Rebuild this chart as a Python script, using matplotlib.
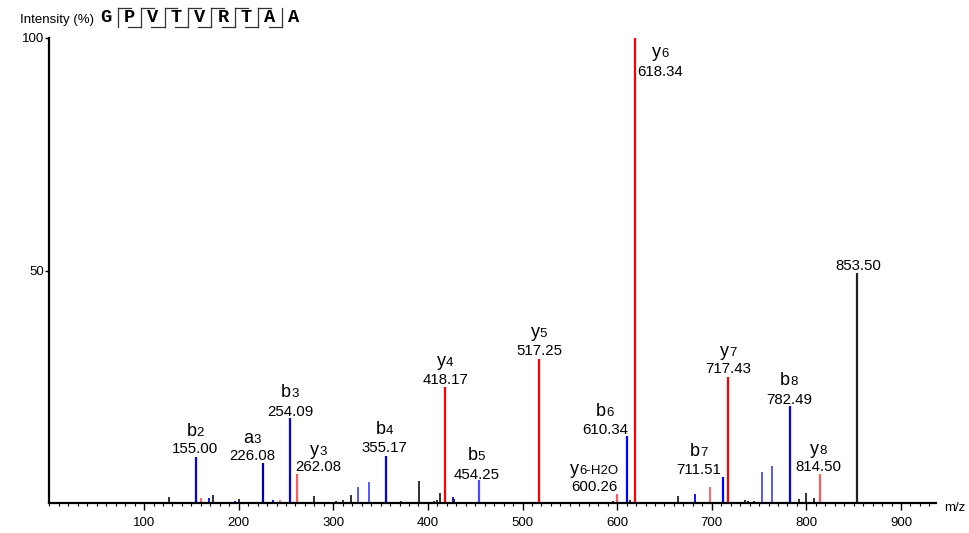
import numpy as np
import matplotlib
matplotlib.use("Agg")
import matplotlib.pyplot as plt
from matplotlib.lines import Line2D
from matplotlib.ticker import MultipleLocator
from matplotlib.offsetbox import TextArea, HPacker, AnnotationBbox

plt.rcParams['font.family'] = ['Liberation Sans', 'DejaVu Sans']

# peptide
sequence = ['G', 'P', 'V', 'T', 'V', 'R', 'T', 'A', 'A']
top_hooks = [1, 2, 3, 4, 5, 6, 7]      # bars (after residue i) with hook over next residue
bottom_hooks = [2, 3, 4, 5, 6, 7, 8]   # bars with hook under previous residue

# labelled peaks
lab_mz = [155.00, 226.08, 254.09, 262.08, 355.17, 418.17, 454.25, 517.25,
          600.26, 610.34, 618.34, 711.51, 717.43, 782.49, 814.50, 853.50]
lab_int = [9.9, 8.6, 18.3, 6.2, 10.2, 24.9, 5.0, 31.0,
           2.0, 14.4, 100.0, 5.6, 27.2, 20.9, 6.2, 49.5]
lab_ion = ['b2', 'a3', 'b3', 'y3', 'b4', 'y4', 'b5', 'y5',
           'y6-H2O', 'b6', 'y6', 'b7', 'y7', 'b8', 'y8', '']
lab_kind = ['b', 'a', 'b', 'yl', 'b', 'y', 'bl', 'y',
            'yl', 'b', 'y', 'b', 'y', 'b', 'yl', 'n']

# unlabelled peaks
oth_mz = [126.7, 160.3, 169.0, 172.6, 188.0, 196.0, 200.4, 236.0, 243.8, 279.4,
          290.0, 303.0, 310.0, 318.8, 326.5, 337.5, 362.0, 366.0, 371.0, 376.0,
          381.0, 390.4, 399.9, 406.5, 409.7, 412.9, 426.3, 427.5, 499.3, 584.0,
          596.0, 613.7, 622.0, 628.0, 640.0, 652.0, 664.2, 682.1, 698.6, 734.6,
          738.2, 745.0, 753.0, 763.5, 792.0, 799.8, 807.9]
oth_int = [1.3, 1.0, 1.0, 1.7, 0.3, 0.5, 0.8, 0.7, 0.7, 1.4,
           0.3, 0.4, 0.7, 1.7, 3.5, 4.5, 0.3, 0.3, 0.4, 0.3,
           0.3, 4.7, 0.3, 0.5, 0.6, 2.2, 1.3, 0.9, 0.3, 0.3,
           0.4, 0.6, 0.3, 0.3, 0.3, 0.3, 1.5, 2.0, 3.5, 0.6,
           0.5, 0.4, 6.7, 7.9, 0.8, 2.2, 1.0]
oth_kind = ['n', 'yl', 'b', 'n', 'n', 'b', 'n', 'b', 'yl', 'n',
            'n', 'n', 'n', 'n', 'bl', 'bl', 'n', 'n', 'n', 'n',
            'n', 'n', 'yl', 'n', 'n', 'n', 'b', 'n', 'yl', 'n',
            'n', 'n', 'n', 'n', 'n', 'n', 'n', 'b', 'yl', 'n',
            'n', 'n', 'bl', 'bl', 'n', 'n', 'n']

colors = {'b': '#0000ff', 'bl': '#4a4aff', 'a': '#0000b0',
          'y': '#ff0000', 'yl': '#ff5a5a', 'n': '#222222'}

# label placement in pixels: dx, dy of number, dy of ion name
label_off = {'b2': (-1, 8, 25), 'a3': (-11, 7, 25), 'b3': (0, 6, 25),
             'y3': (21, 7, 24), 'b4': (-1, 8, 26), 'y4': (0, 7, 26),
             'b5': (-3, 5, 24), 'y5': (0, 8, 26), 'y6-H2O': (-23, 7, 24),
             'b6': (-22, 6, 25), 'y6': (26, -34, -15), 'b7': (-24, 7, 25),
             'y7': (0, 8, 25), 'b8': (-1, 6, 25), 'y8': (-2, 7, 25),
             '': (1, 7, 0)}

W, H = 970, 533
fig = plt.figure(figsize=(W / 100, H / 100), dpi=100)
ax = fig.add_axes([49.5 / W, 30 / H, 886.5 / W, 465 / H])

ax.vlines(oth_mz, 0, oth_int, colors=[colors[k] for k in oth_kind], linewidth=1.3)
ax.vlines(lab_mz, 0, lab_int, colors=[colors[k] for k in lab_kind], linewidth=1.6)

ax.set_xlim(0, 937)
ax.set_ylim(0, 100)
for s in ['top', 'right']:
    ax.spines[s].set_visible(False)
ax.spines['left'].set_linewidth(1.6)
ax.spines['bottom'].set_linewidth(1.6)
ax.set_xticks(range(100, 901, 100))
ax.xaxis.set_minor_locator(MultipleLocator(10))
ax.set_yticks([50, 100])
ax.tick_params(axis='x', which='major', length=5, width=1, labelsize=9.5, pad=5)
ax.tick_params(axis='x', which='minor', length=2.5, width=0.8)
ax.tick_params(axis='y', length=3, width=1, labelsize=9.5, pad=1)

px = 0.72  # pixels -> points
for mz, it, ion in zip(lab_mz, lab_int, lab_ion):
    dx, dy, dyn = label_off[ion]
    ax.annotate(f"{mz:.2f}", (mz, it), xytext=(dx * px, dy * px),
                textcoords='offset points', ha='center', va='center', fontsize=10.8)
    if ion:
        box = HPacker(children=[TextArea(ion[0], textprops=dict(fontsize=13)),
                                TextArea(ion[1:], textprops=dict(fontsize=9.5))],
                      align='baseline', pad=0, sep=0)
        ab = AnnotationBbox(box, (mz, it), xybox=(dx * px, dyn * px),
                            xycoords='data', boxcoords='offset points',
                            frameon=False, box_alignment=(0.5, 0.5), pad=0,
                            annotation_clip=False)
        ax.add_artist(ab)

fig.text(955 / W, 1 - 508 / H, 'm/z', ha='center', va='center', fontsize=9.5)
fig.text(20 / W, 1 - 20 / H, 'Intensity (%)', ha='left', va='center', fontsize=9.5)

# sequence header with fragment marks
x0, step = 106, 23.4
ytxt, ytop, ybot, hook = 18, 8, 27, 13
for i, aa in enumerate(sequence):
    fig.text((x0 + i * step) / W, 1 - ytxt / H, aa, ha='center', va='center',
             fontsize=13.5, family='Liberation Mono', fontweight='bold')


def seg(xa, ya, xb, yb):
    fig.add_artist(Line2D([xa / W, xb / W], [1 - ya / H, 1 - yb / H],
                          transform=fig.transFigure, color='#333333', linewidth=0.9))


for i in range(1, len(sequence)):
    xb = x0 + (i - 0.5) * step
    seg(xb, ytop, xb, ybot)
    if i in top_hooks:
        seg(xb, ytop, xb + hook, ytop)
    if i in bottom_hooks:
        seg(xb, ybot, xb - hook, ybot)

fig.savefig('out.png', dpi=100)
